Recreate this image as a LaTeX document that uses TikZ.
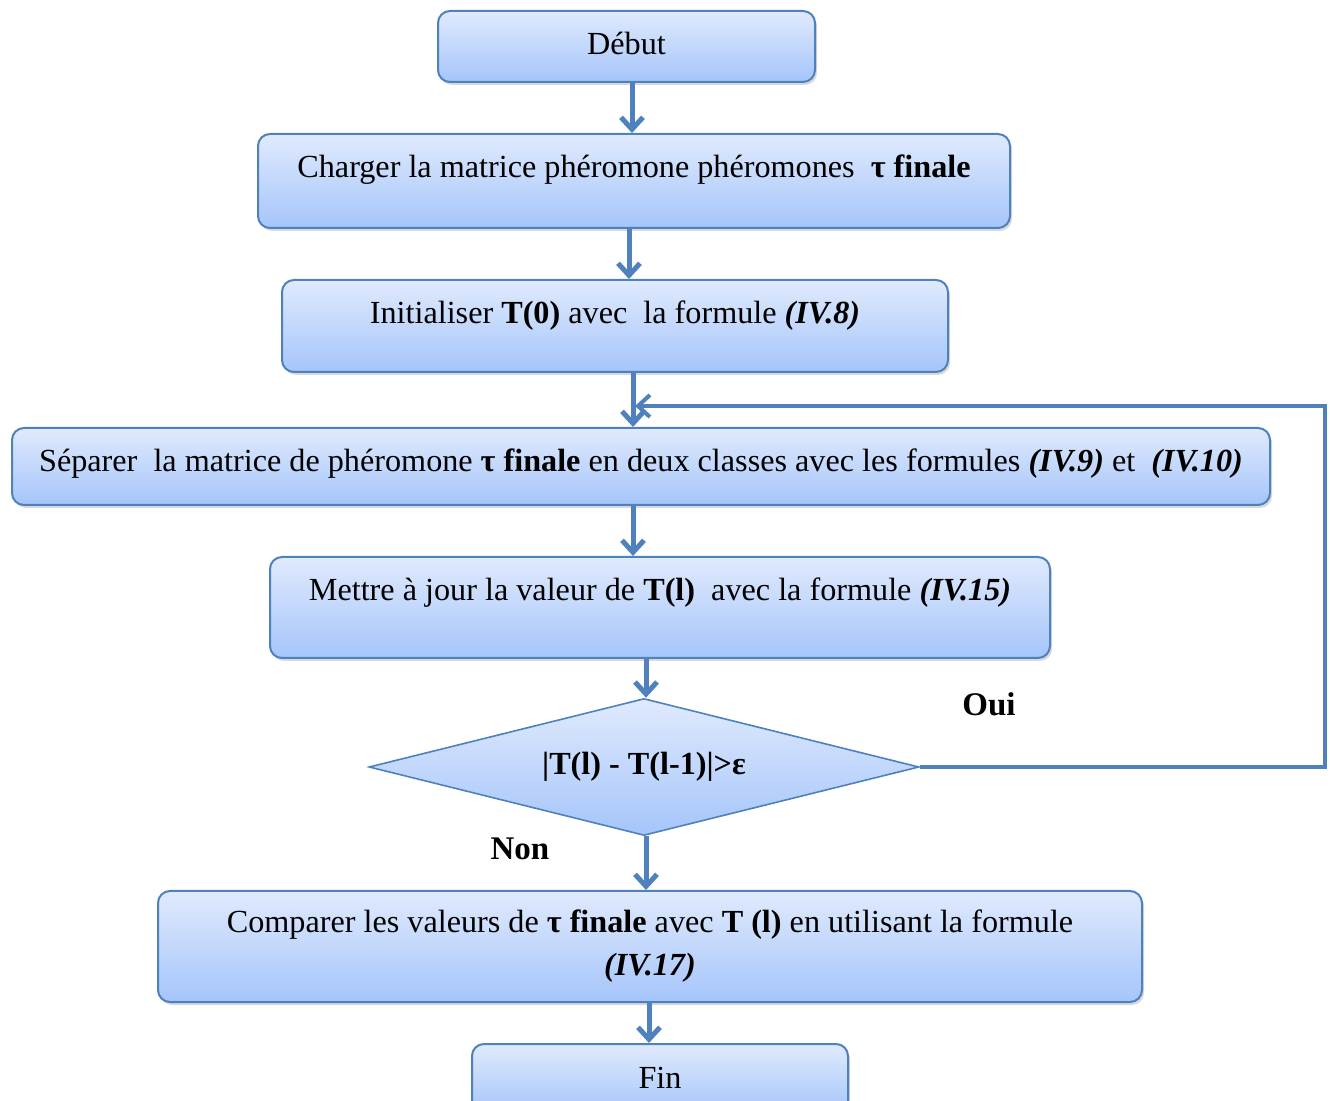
\documentclass[tikz,border=0pt]{standalone}
\usepackage{fontspec}
\setmainfont{Liberation Serif}
\usetikzlibrary{arrows.meta}
\usetikzlibrary{shapes.geometric}
\usetikzlibrary{shadows}

\definecolor{boxtop}{RGB}{224,234,253}
\definecolor{boxbot}{RGB}{165,197,250}
\definecolor{edge}{RGB}{79,129,189}

\begin{document}
\begin{tikzpicture}[x=0.5pt, y=-0.5pt, font=\fontsize{16.1}{21.5}\selectfont]
        % Box and arrow style definitions
        \tikzset{
            box/.style={draw=edge, line width=1pt, rounded corners=6pt, top color=boxtop, bottom color=boxbot,
                anchor=north, align=center, inner xsep=4pt, inner ysep=7pt,
                drop shadow={opacity=0.3, shadow xshift=1pt, shadow yshift=-1.5pt}},
            topbox/.style={box, text height=15pt},
            decision/.style={diamond, aspect=4, draw=edge, line width=0.8pt, top color=boxtop, bottom color=boxbot,
                inner sep=0pt, minimum width=275pt, minimum height=68.5pt, font=\fontsize{16.1}{20}\selectfont\bfseries},
            flow/.style={edge, line width=2.5pt, -{Straight Barb[length=6pt, width=11pt]}},
            back/.style={edge, line width=2pt, -{Straight Barb[length=6pt, width=11pt]}},
            answer/.style={font=\fontsize{16.5}{20}\selectfont\bfseries}
        }
        \useasboundingbox (0,0) rectangle (1330,1101);

        % ==========================================
        % BOXES
        % ==========================================

        \node[topbox, minimum width=188.5pt, text depth=6.5pt] (debut) at (626.5,10) {Début};
        \node[topbox, minimum width=376pt, text depth=18pt] (charger) at (634,133)
            {Charger la matrice phéromone phéromones\ \ \textbf{τ finale}};
        \node[topbox, minimum width=333pt, text depth=17pt] (init) at (615,279)
            {Initialiser \textbf{T(0)} avec\ \ la formule \textbf{\textit{(IV.8)}}};
        \node[topbox, minimum width=629pt, text depth=9.5pt] (separer) at (641,427)
            {Séparer\ \ la matrice de phéromone \textbf{τ finale} en deux classes avec les formules \textbf{\textit{(IV.9)}} et\ \ \textbf{\textit{(IV.10)}}};
        \node[topbox, minimum width=390pt, text depth=21.5pt] (maj) at (660,556)
            {Mettre à jour la valeur de \textbf{T(l)}\ \ avec la formule \textbf{\textit{(IV.15)}}};
        \node[decision] (test) at (644,767) {|T(l) - T(l-1)|>ε};
        \node[box, minimum width=492pt, minimum height=55.5pt] (comparer) at (650,890)
            {Comparer les valeurs de \textbf{τ finale} avec \textbf{T (l)} en utilisant la formule\\\textbf{\textit{(IV.17)}}};
        \node[topbox, minimum width=188pt, text depth=6pt] (fin) at (660,1043) {Fin};

        \node[answer] (oui) at (989,704) {Oui};
        \node[answer] (non) at (520,849) {Non};

        % ==========================================
        % ARROWS
        % ==========================================

        \coordinate (c1) at (632,0);
        \coordinate (c2) at (629,0);
        \coordinate (c3) at (633,0);
        \coordinate (c4) at (646,0);
        \coordinate (c5) at (649,0);
        \coordinate (corner) at (1325,406);
        \coordinate (join) at (635,406);

        \draw[flow] (debut.south -| c1) -- (charger.north -| c1);
        \draw[flow] (charger.south -| c2) -- (init.north -| c2);
        \draw[flow] (init.south -| c3) -- (separer.north -| c3);
        \draw[flow] (separer.south -| c3) -- (maj.north -| c3);
        \draw[flow] (maj.south -| c4) -- (test.north -| c4);
        \draw[flow] (test.south -| c4) -- (comparer.north -| c4);
        \draw[flow] (comparer.south -| c5) -- (fin.north -| c5);

        % loop back when the test holds
        \draw[back] (test.east) -| (corner) -- (join);
    \end{tikzpicture}
\end{document}
